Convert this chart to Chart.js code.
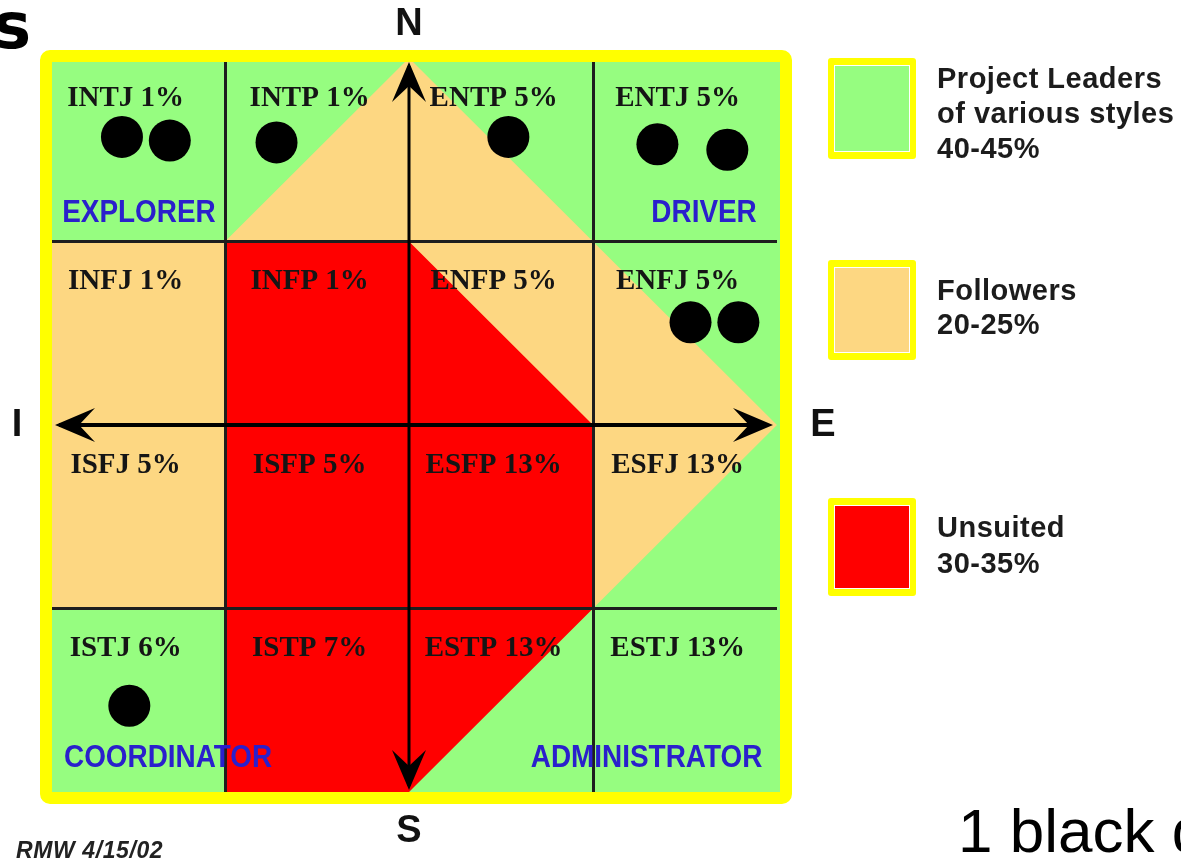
<!DOCTYPE html>
<html>
<head>
<meta charset="utf-8">
<script src="https://cdn.jsdelivr.net/npm/chart.js@4"></script>
<style>
  html, body { margin: 0; padding: 0; background: #fff; overflow: hidden; }
  canvas { display: block; }
</style>
</head>
<body>
<canvas id="typeChart" width="1181" height="861"></canvas>
<script>
// Type grid, rows from N (top) to S (bottom), columns from I to E
const typeRows = [
    ['INTJ', 'INTP', 'ENTP', 'ENTJ'],
    ['INFJ', 'INFP', 'ENFP', 'ENFJ'],
    ['ISFJ', 'ISFP', 'ESFP', 'ESFJ'],
    ['ISTJ', 'ISTP', 'ESTP', 'ESTJ']
];
const typePercents = [
    [1, 1, 5, 5],
    [1, 1, 5, 5],
    [5, 5, 13, 13],
    [6, 7, 13, 13]
];
const roleNames = ['EXPLORER', 'DRIVER', 'COORDINATOR', 'ADMINISTRATOR'];

// region outlines in grid units (x: I -> E, y: S -> N)
const followerX = [0, 0, 1, 2, 3, 4, 3, 0];
const followerY = [1, 3, 3, 4, 3, 2, 1, 1];
const unsuitedX = [1, 2, 3, 3, 2, 1, 1];
const unsuitedY = [0, 0, 1, 2, 3, 3, 0];

// one black dot per person
const dotX = [0.44, 0.70, 1.28, 2.54, 3.35, 3.73, 3.53, 3.79, 0.48];
const dotY = [3.57, 3.55, 3.54, 3.57, 3.53, 3.50, 2.56, 2.56, 0.47];
const keyDotX = [4.78];
const keyDotY = [0.43];

const legendLabels = [
    ['Project Leaders', 'of various styles', '40-45%'],
    ['Followers', '20-25%'],
    ['Unsuited', '30-35%']
];
const legendColors = ['#96fd80', '#fdd782', '#ff0000'];
const axisLetters = ['N', 'S', 'I', 'E'];
const keyText = '1 black dot';
const stamp = 'RMW 4/15/02';

const toPoints = (xs, ys) => xs.map((x, i) => ({ x: x, y: ys[i] }));

function arrowHead(c, tx, ty, dx, dy) {
    // tip at (tx, ty), pointing along (dx, dy)
    const len = 40, half = 17, notch = 24;
    const px = -dy, py = dx;
    c.beginPath();
    c.moveTo(tx, ty);
    c.lineTo(tx - dx * len + px * half, ty - dy * len + py * half);
    c.lineTo(tx - dx * notch, ty - dy * notch);
    c.lineTo(tx - dx * len - px * half, ty - dy * len - py * half);
    c.closePath();
    c.fill();
}

const diagramPlugin = {
    id: 'diagram',
    beforeDatasetsDraw(chart) {
        const { ctx, scales: { x, y } } = chart;
        ctx.save();
        ctx.fillStyle = legendColors[0];
        const l = x.getPixelForValue(0), r = x.getPixelForValue(4);
        const t = y.getPixelForValue(4), b = y.getPixelForValue(0);
        ctx.fillRect(l, t, r - l + 4, b - t + 2);
        ctx.restore();
    },
    afterDraw(chart) {
        const { ctx, scales: { x, y } } = chart;
        const l = x.getPixelForValue(0), r = x.getPixelForValue(4);
        const t = y.getPixelForValue(4), b = y.getPixelForValue(0);
        const cx = x.getPixelForValue(2), cy = y.getPixelForValue(2);
        ctx.save();

        // axis arrows
        ctx.strokeStyle = '#000';
        ctx.fillStyle = '#000';
        ctx.lineWidth = 3;
        ctx.beginPath();
        ctx.moveTo(cx, t + 8);
        ctx.lineTo(cx, b - 6);
        ctx.stroke();
        ctx.lineWidth = 4;
        ctx.beginPath();
        ctx.moveTo(l + 18, cy);
        ctx.lineTo(r - 10, cy);
        ctx.stroke();
        arrowHead(ctx, cx, t + 4, 0, -1);
        arrowHead(ctx, cx, b - 2, 0, 1);
        arrowHead(ctx, l + 14, cy, -1, 0);
        arrowHead(ctx, r - 4, cy, 1, 0);

        // yellow frame
        ctx.strokeStyle = '#ffff00';
        ctx.lineWidth = 12;
        ctx.beginPath();
        ctx.roundRect(l + 5, t - 2, (r + 9) - (l + 5), (b + 6) - (t - 2), 4);
        ctx.stroke();

        // type labels
        ctx.fillStyle = '#151515';
        ctx.font = 'bold 29px "Liberation Serif", "Times New Roman", serif';
        ctx.textAlign = 'center';
        ctx.textBaseline = 'alphabetic';
        typeRows.forEach((row, ri) => {
            row.forEach((name, ci) => {
                const px = x.getPixelForValue(ci + 0.46);
                const py = y.getPixelForValue(4 - ri - 0.26);
                ctx.fillText(name + ' ' + typePercents[ri][ci] + '%', px, py);
            });
        });

        // corner roles
        ctx.fillStyle = '#2a20cc';
        ctx.font = 'bold 31px "Liberation Sans", Arial, sans-serif';
        const roleSpots = [
            [0.115, 3.106, 'left'], [3.89, 3.106, 'right'],
            [0.125, 0.136, 'left'], [3.92, 0.136, 'right']
        ];
        roleNames.forEach((name, i) => {
            const s = roleSpots[i];
            ctx.save();
            ctx.translate(x.getPixelForValue(s[0]), y.getPixelForValue(s[1]));
            ctx.scale(0.9, 1);
            ctx.textAlign = s[2];
            ctx.fillText(name, 0, 0);
            ctx.restore();
        });

        // compass letters
        ctx.fillStyle = '#111';
        ctx.font = 'bold 38px "Liberation Sans", Arial, sans-serif';
        ctx.textAlign = 'center';
        ctx.textBaseline = 'middle';
        ctx.fillText(axisLetters[0], cx, t - 33);
        ctx.fillText(axisLetters[1], cx, b + 40);
        ctx.fillText(axisLetters[2], l - 24, cy + 1);
        ctx.fillText(axisLetters[3], r + 46, cy + 1);

        // legend boxes
        const boxL = r + 51, boxW = 88;
        const boxTops = [58, 260, 498], boxHs = [101, 100, 98];
        const lineBase = [[88, 123, 158], [300, 334], [537, 573]];
        legendLabels.forEach((lines, i) => {
            const top = boxTops[i], h = boxHs[i];
            ctx.fillStyle = '#ffff00';
            ctx.beginPath();
            ctx.roundRect(boxL, top, boxW, h, 3);
            ctx.fill();
            ctx.fillStyle = '#ffffff';
            ctx.fillRect(boxL + 6, top + 7, boxW - 12, h - 14);
            ctx.fillStyle = legendColors[i];
            ctx.fillRect(boxL + 7, top + 8, boxW - 14, h - 16);
            ctx.fillStyle = '#1c1c1c';
            ctx.font = 'bold 29px "Liberation Sans", Arial, sans-serif';
            ctx.letterSpacing = '0.5px';
            ctx.textAlign = 'left';
            ctx.textBaseline = 'alphabetic';
            lines.forEach((txt, k) => ctx.fillText(txt, boxL + 109, lineBase[i][k]));
            ctx.letterSpacing = '0px';
        });

        // key text and stamp
        ctx.fillStyle = '#000';
        ctx.textAlign = 'left';
        ctx.textBaseline = 'alphabetic';
        ctx.font = '62px "Liberation Sans", Arial, sans-serif';
        ctx.fillText(keyText, 958, 852);
        ctx.fillStyle = '#222';
        ctx.font = 'italic bold 23px "Liberation Sans", Arial, sans-serif';
        ctx.letterSpacing = '0.6px';
        ctx.fillText(stamp, 16, 858);
        ctx.letterSpacing = '0px';

        // end of the cut-off title
        ctx.fillStyle = '#000';
        ctx.font = 'bold 64px "DejaVu Sans", sans-serif';
        ctx.textAlign = 'right';
        ctx.fillText('s', 31, 48);

        ctx.restore();
    }
};

const gridColor = (c) => (c.tick && (c.tick.value === 1 || c.tick.value === 3)) ? '#1e1e1e' : 'rgba(0,0,0,0)';

const chartCtx = document.getElementById('typeChart').getContext('2d');
new Chart(chartCtx, {
    type: 'scatter',
    data: {
        datasets: [
            {
                label: 'Followers',
                type: 'line',
                data: toPoints(followerX, followerY),
                backgroundColor: legendColors[1],
                borderColor: 'rgba(0,0,0,0)',
                borderWidth: 0,
                pointRadius: 0,
                tension: 0,
                fill: 'shape',
                order: 3
            },
            {
                label: 'Unsuited',
                type: 'line',
                data: toPoints(unsuitedX, unsuitedY),
                backgroundColor: legendColors[2],
                borderColor: 'rgba(0,0,0,0)',
                borderWidth: 0,
                pointRadius: 0,
                tension: 0,
                fill: 'shape',
                order: 2
            },
            {
                label: 'People',
                data: toPoints(dotX, dotY),
                backgroundColor: '#000',
                borderWidth: 0,
                pointRadius: 21,
                order: 1
            },
            {
                label: 'Key',
                data: toPoints(keyDotX, keyDotY),
                backgroundColor: '#000',
                borderWidth: 0,
                pointRadius: 21,
                clip: false,
                order: 0
            }
        ]
    },
    options: {
        responsive: false,
        animation: false,
        events: [],
        devicePixelRatio: 1,
        layout: {
            padding: { left: 41, top: 58, right: 404, bottom: 69 }
        },
        scales: {
            x: {
                type: 'linear',
                min: 0,
                max: 4,
                ticks: { display: false, stepSize: 1 },
                border: { display: false },
                grid: { z: 1, drawTicks: false, lineWidth: 3, color: gridColor },
                afterFit: (s) => { s.height = 0; }
            },
            y: {
                type: 'linear',
                min: 0,
                max: 4,
                ticks: { display: false, stepSize: 1 },
                border: { display: false },
                grid: { z: 1, drawTicks: false, lineWidth: 3, color: gridColor },
                afterFit: (s) => { s.width = 0; }
            }
        },
        plugins: {
            legend: { display: false },
            tooltip: { enabled: false }
        }
    },
    plugins: [diagramPlugin]
});
</script>
</body>
</html>
